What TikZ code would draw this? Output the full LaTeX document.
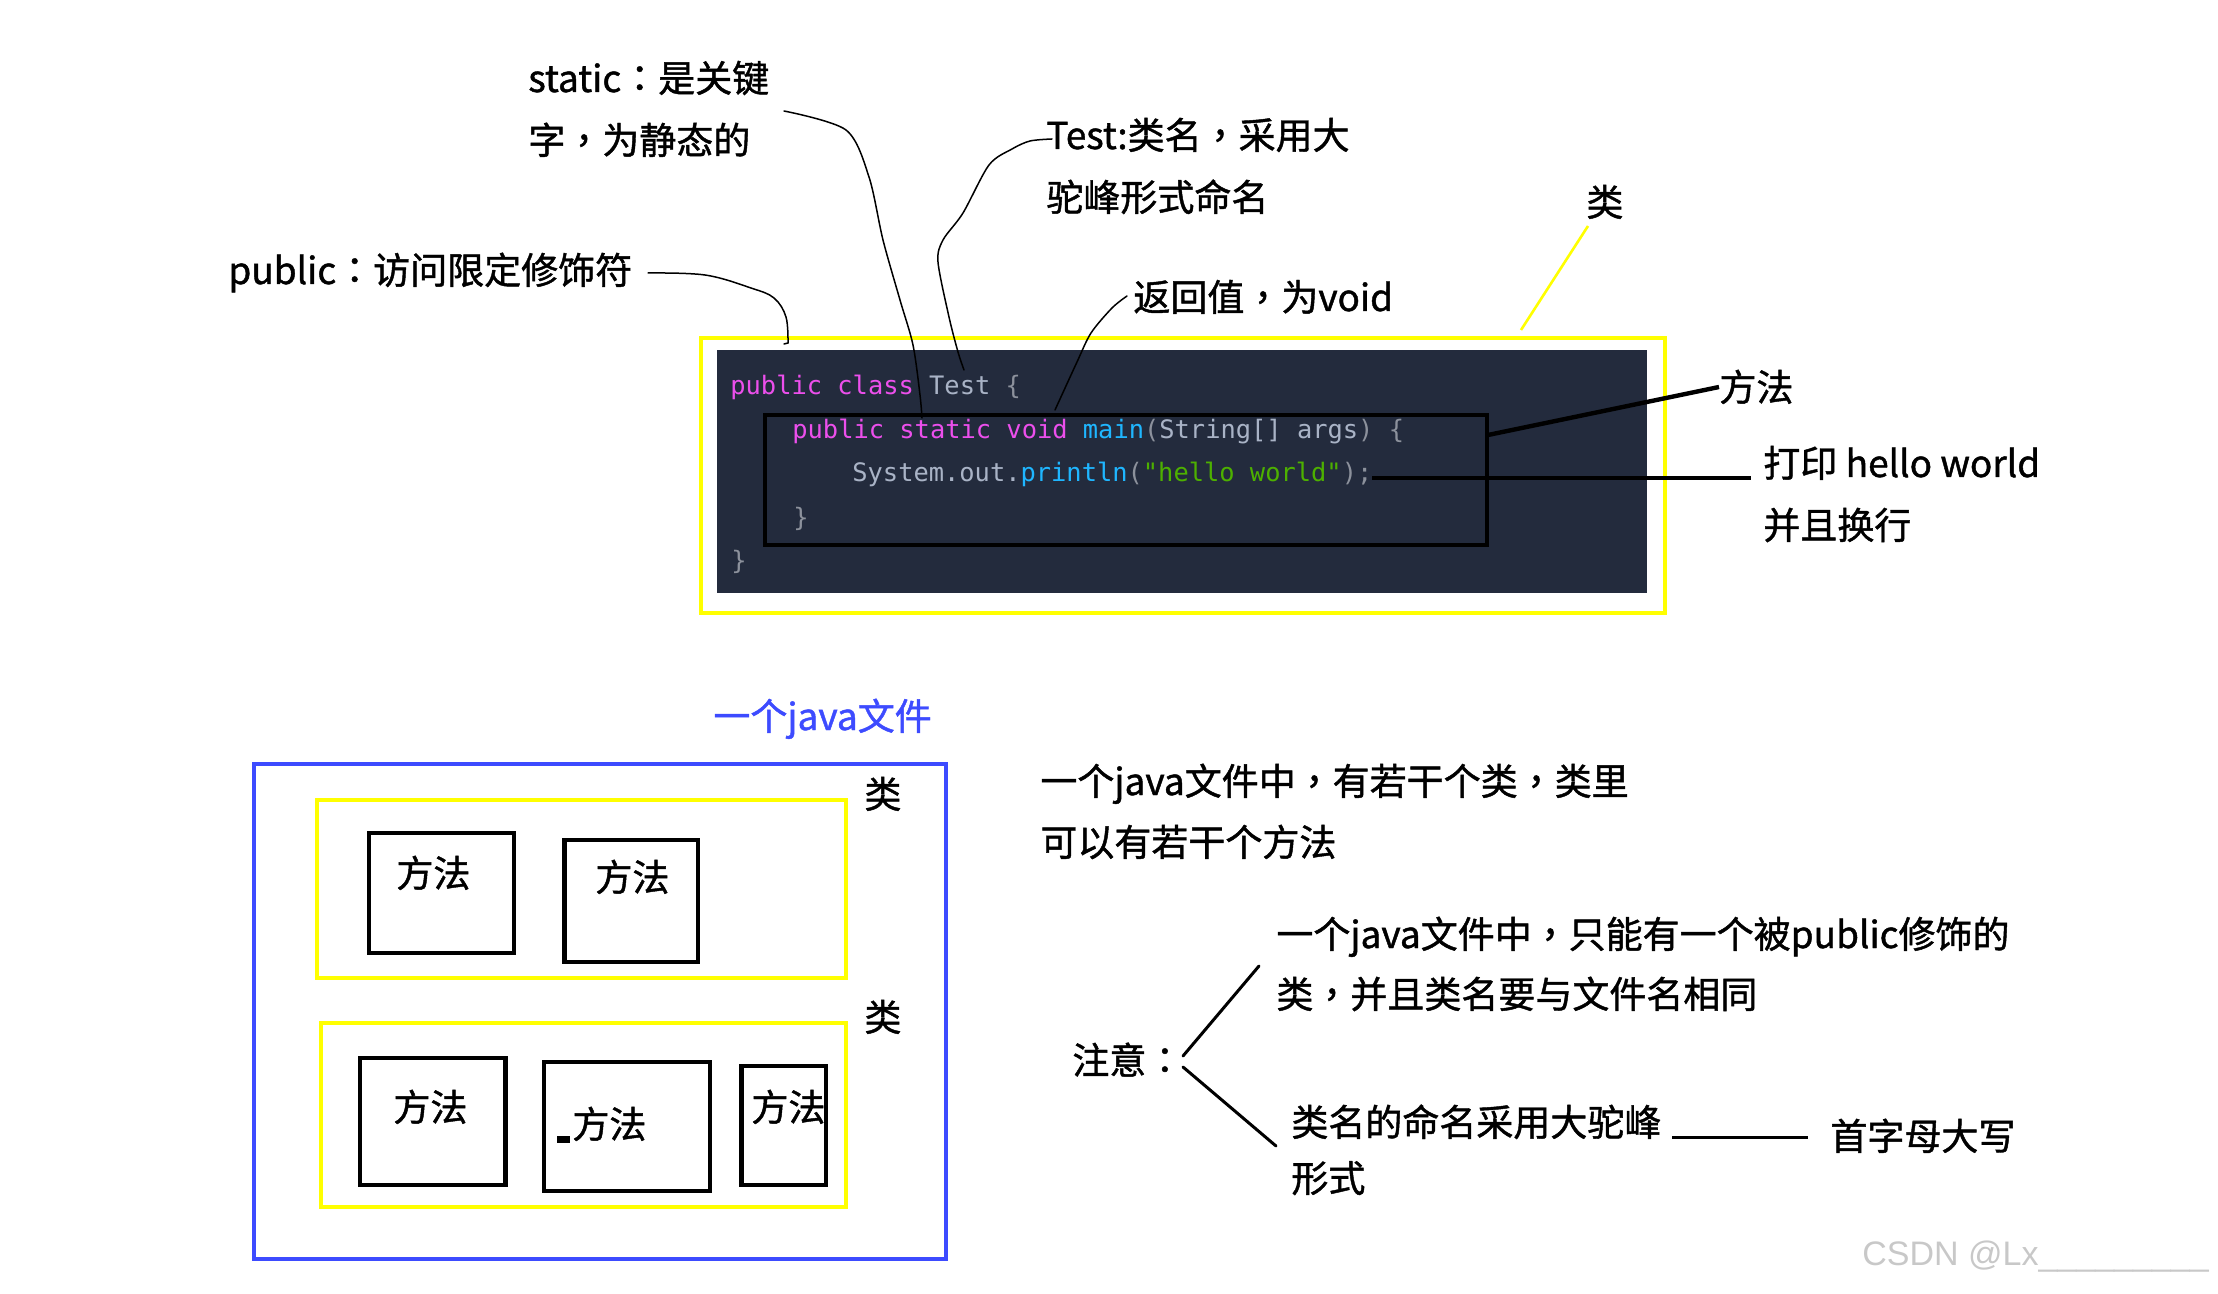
\documentclass[tikz,border=0pt]{standalone}
\usepackage{fontspec}
\setmainfont{Noto Sans CJK SC}[FakeBold=1.2]
\newfontfamily\tcfont{Noto Sans CJK TC}[FakeBold=1.2]
\newfontfamily\codefont{DejaVu Sans Mono}
\newfontfamily\wmfont{Liberation Sans}
\newcommand\zcm{{\tcfont ，}}
\newcommand\zcl{{\tcfont ：}}
\definecolor{codebg}{HTML}{232B3D}
\definecolor{kw}{HTML}{EC4FEC}
\definecolor{fn}{HTML}{1FB6FF}
\definecolor{strc}{HTML}{4DB000}
\definecolor{plain}{HTML}{A9B3C6}
\definecolor{paren}{HTML}{8C919C}
\definecolor{ylw}{HTML}{FFFF00}
\definecolor{blu}{HTML}{3D4BFF}
\definecolor{wm}{HTML}{C8C8C8}
\begin{document}
\begin{tikzpicture}[x=0.5pt,y=-0.5pt,
  lbl/.style={anchor=base west, inner sep=0pt, font=\fontsize{18.5pt}{22pt}\selectfont},
  code/.style={anchor=base west, inner sep=0pt, font=\codefont\fontsize{12.7pt}{15pt}\selectfont, text=plain},
  pen/.style={line width=0.75pt, line cap=round, line join=round},
  thickpen/.style={line width=2.2pt},
  midpen/.style={line width=1.5pt, line cap=round},
  ybox/.style={draw=ylw, line width=2pt},
  mbox/.style={draw=black, line width=2.2pt}]
\useasboundingbox (0,0) rectangle (2218,1294);

% ---------- top code block ----------
\draw[ybox] (701,338) rectangle (1665,613);
\fill[codebg] (717,350) rectangle (1647,593);
\node[code] (c1) at (730,395) {\textcolor{kw}{public class} Test \textcolor{paren}{\{}};
\node[code] (c2) at (792,438.5) {\textcolor{kw}{public static void} \textcolor{fn}{main}\textcolor{paren}{(}String[] args\textcolor{paren}{)} \textcolor{paren}{\{}};
\node[code] (c3) at (852,482) {System.out.\textcolor{fn}{println}\textcolor{paren}{(}\textcolor{strc}{"hello world"}\textcolor{paren}{);}};
\node[code] (c4) at (793,527) {\textcolor{paren}{\}}};
\node[code] (c5) at (731,570) {\textcolor{paren}{\}}};
\draw[mbox] (765,415) rectangle (1487,545);
\coordinate (mr) at (1488,435);
\coordinate (pr) at (1372,478);

% ---------- top labels ----------
\node[lbl] (st1) at (528,92) {static\zcl 是关键};
\node[lbl] (st2) at (528,154) {字\zcm 为静态的};
\node[lbl] (pub) at (228,284) {public\zcl 访问限定修饰符};
\node[lbl] (ts1) at (1046,149) {Test:类名\zcm 采用大};
\node[lbl] (ts2) at (1046,211) {驼峰形式命名};
\node[lbl] (lei) at (1586,216) {类};
\node[lbl] (ret) at (1133,311) {返回值\zcm 为void};
\node[lbl] (ff) at (1719,401) {方法};
\node[lbl] (pr1) at (1763,477) {打印 hello world};
\node[lbl] (pr2) at (1763,539) {并且换行};

% ---------- hand-drawn connectors ----------
\coordinate (pubS) at (648,273);
\coordinate (pubE) at (788,343);
\draw[pen] plot[smooth, tension=0.6] coordinates {(pubS) (705,275) (751,288) (774,298) (786,317) (pubE)};
\draw[pen] (784,344) -- (pubE);
\coordinate (stS) at (784,111);
\coordinate (stE) at (922,418);
\draw[pen] plot[smooth, tension=0.5] coordinates {(stS) (846,130) (869,177) (883,240) (900,300) (913,345) (920,395) (stE)};
\coordinate (tsS) at (1052,139);
\coordinate (tsE) at (964,370);
\draw[pen] plot[smooth, tension=0.5] coordinates {(tsS) (1030,141) (1012,149) (989,165) (963,213) (943,240) (938,262) (949,317) (958,352) (tsE)};
\coordinate (rtS) at (1127,296);
\coordinate (rtE) at (1055,410);
\draw[pen] plot[smooth, tension=0.5] coordinates {(rtS) (1112,308) (1091,333) (1077,362) (rtE)};
\coordinate (yA) at (1588,226);
\coordinate (yB) at (1521,330);
\draw[draw=ylw, line width=1.3pt] (yA) -- (yB);
\draw[thickpen] (mr) -- (1719,387);
\draw[line width=2pt] (pr) -- (1751,478);

% ---------- bottom left: file / class / method ----------
\node[lbl, text=blu] (jf) at (713,730) {一个java文件};
\draw[draw=blu, line width=2pt] (253.5,764) rectangle (945.7,1259);
\draw[ybox] (317,800) rectangle (846,978);
\draw[ybox] (321,1023) rectangle (846,1207);
\node[lbl] (l1) at (864,808) {类};
\node[lbl] (l2) at (864,1031) {类};
\draw[mbox] (369,833) rectangle (514,953);
\draw[mbox] (564.5,840) rectangle (698,962);
\draw[mbox] (360,1058) rectangle (505.5,1185);
\draw[mbox] (544,1062) rectangle (710,1191);
\draw[mbox] (741.6,1066) rectangle (826,1185);
\fill (557,1136) rectangle (570,1143);
\node[lbl] (f1) at (396,887) {方法};
\node[lbl] (f2) at (595,891) {方法};
\node[lbl] (f3) at (393,1121) {方法};
\node[lbl] (f4) at (572,1138) {方法};
\node[lbl] (f5) at (751,1121) {方法};

% ---------- bottom right notes ----------
\node[lbl] (i1) at (1040,795) {一个java文件中\zcm 有若干个类\zcm 类里};
\node[lbl] (i2) at (1040,856) {可以有若干个方法};
\node[lbl] (zy) at (1072,1074) {注意\zcl};
\node[lbl] (n1) at (1276,948) {一个java文件中\zcm 只能有一个被public修饰的};
\node[lbl] (n2) at (1276,1008) {类\zcm 并且类名要与文件名相同};
\node[lbl] (n3) at (1291,1136) {类名的命名采用大驼峰};
\node[lbl] (n4) at (1291,1192) {形式};
\node[lbl] (n5) at (1830,1150) {首字母大写};
\coordinate (zyA) at (1183,1056);
\coordinate (zyB) at (1183,1067);
\draw[midpen] (zyA) -- (1259,966);
\draw[midpen] (zyB) -- (1276,1146);
\coordinate (hA) at (1672,1137.5);
\coordinate (hB) at (1808,1137.5);
\draw[line width=1.8pt] (hA) -- (hB);

\node[anchor=base west, inner sep=0pt, text=wm, font=\wmfont\fontsize{17pt}{20pt}\selectfont] (wmk) at (1862,1265) {CSDN @Lx\_\_\_\_\_\_\_\_\_};
\end{tikzpicture}
\end{document}
